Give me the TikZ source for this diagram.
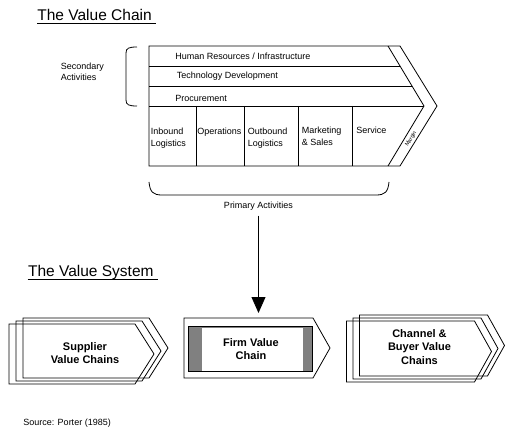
\documentclass[tikz,border=0pt]{standalone}
\usepackage{fontspec}
\setmainfont{Liberation Sans}
\usetikzlibrary{arrows.meta}
\definecolor{firmgray}{rgb}{0.5,0.5,0.5}

\begin{document}
\begin{tikzpicture}[x=1pt, y=-1pt, line width=0.8pt,
	small/.style={font=\fontsize{9}{11}\selectfont, inner sep=0pt},
	cell/.style={inner sep=0pt, anchor=north west, align=left, font=\fontsize{9}{12}\selectfont},
	heading/.style={font=\fontsize{15.5}{18}\selectfont, anchor=base west, inner sep=0pt},
	boxtext/.style={font=\fontsize{11}{13.5}\selectfont\bfseries, align=center, inner sep=0pt}]

\useasboundingbox (0,0) rectangle (512,433);

% the value chain
\node[heading] (vchain) at (37,20.7) {The Value Chain};
\draw[line width=0.7pt] ([yshift=-2.6pt]vchain.base west) -- ([yshift=-2.6pt,xshift=4pt]vchain.base east);

\draw (149,46) -- (400,46) -- (437,106) -- (400,166) -- (149,166) -- cycle;
\draw (388,46) -- (424,106) -- (388,166);
\foreach \y/\x in {66/400, 86/412, 106/424}
	\draw (149,\y) -- (\x,\y);
\foreach \x in {196,244,298,352}
	\draw (\x,106) -- (\x,166);

\node[small, anchor=west] (hr) at (175,56) {Human Resources / Infrastructure};
\node[small, anchor=west] (tech) at (176.5,76.5) {Technology Development};
\node[small, anchor=west] (proc) at (175,98) {Procurement};

\node[cell] (inbound) at (150.5,127.5) {Inbound\\Logistics};
\node[cell] (operations) at (197,127.5) {Operations};
\node[cell] (outbound) at (247.5,127.5) {Outbound\\Logistics};
\node[cell] (marketing) at (301.5,126.5) {Marketing\\\& Sales};
\node[cell] (service) at (356,126.5) {Service};
\node[font=\fontsize{5.5}{6}\selectfont, inner sep=0pt, rotate=59] (margin) at (411,139) {Margin};

\draw (137,47) .. controls (129,47) and (126,48) .. (126,53) -- (126,100) .. controls (126,105) and (129,106) .. (137,106);
\node[cell, font=\fontsize{9}{10.7}\selectfont] (secondary) at (60.5,62.5) {Secondary\\Activities};

\draw (149,182) .. controls (150,192) and (153,195) .. (162,195) -- (376,195) .. controls (385,195) and (388,192) .. (389,182);
\node[small, anchor=base] (primary) at (258.5,208.4) {Primary Activities};

% the value system
\node[heading] (vsystem) at (27.7,276.7) {The Value System};
\draw[line width=0.7pt] ([yshift=-2.6pt]vsystem.base west) -- ([yshift=-2.6pt,xshift=4pt]vsystem.base east);

\coordinate (firmin) at (258.5,313);
\draw[-{Triangle[width=14pt,length=16pt]}, shorten <=5pt] (primary.south) -- (firmin);

\foreach \x/\y in {23/318, 16/321, 9/324}
	\draw (\x,\y) -- ++(126,0) -- ++(19,30) -- ++(-19,30) -- ++(-126,0) -- cycle;
\node[boxtext] (supplier) at (85,353) {Supplier\\Value Chains};

\draw (184,318) -- ++(129,0) -- ++(17,30) -- ++(-17,30) -- ++(-129,0) -- cycle;
\filldraw[fill=firmgray] (188.5,326.5) rectangle (312.5,371.5);
\fill[white] (202,327.5) rectangle (303,370.5);
\node[boxtext] (firm) at (251,349) {Firm Value\\Chain};

\foreach \x/\y in {359.5/315, 353/318, 346.5/321}
	\draw (\x,\y) -- ++(128,0) -- ++(17,30.5) -- ++(-17,30.5) -- ++(-128,0) -- cycle;
\node[boxtext] (channel) at (419.5,347) {Channel \&\\Buyer Value\\Chains};

\node[small, anchor=base west] (source) at (23,425) {Source: Porter (1985)};

\end{tikzpicture}
\end{document}
